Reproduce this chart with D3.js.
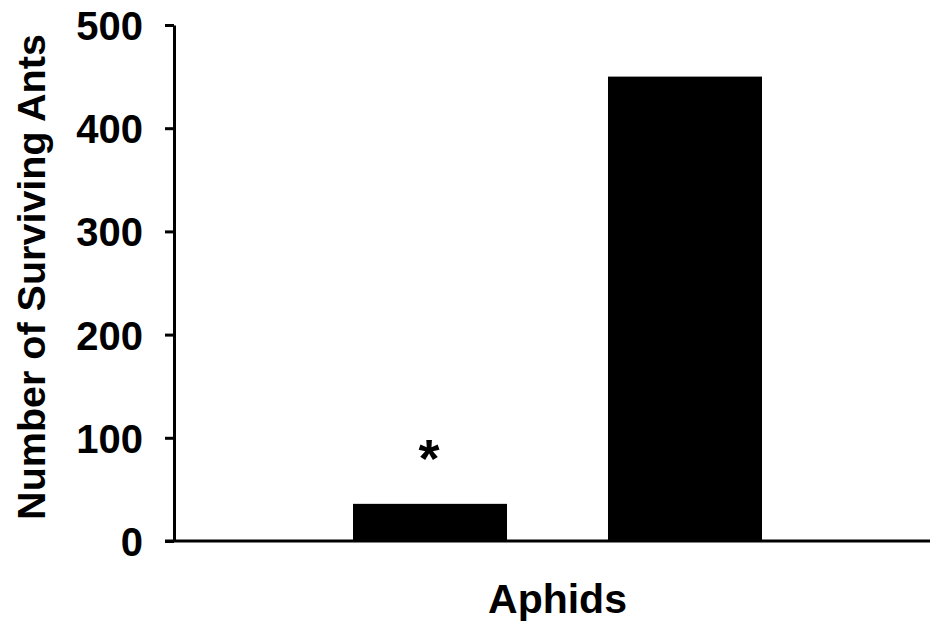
<!DOCTYPE html>
<html>
<head>
<meta charset="utf-8">
<script src="https://cdn.jsdelivr.net/npm/d3@7"></script>
<style>
  body { margin: 0; background: #fff; }
  svg { display: block; }
  text { font-family: "Liberation Sans", Arial, sans-serif; font-weight: bold; fill: #000; }
</style>
</head>
<body>
<div id="chart"></div>
<script>
(function () {

    const categories = ['Aphids']
    const series = ['treatment', 'control']
    const values = [36, 450]
    const marks = ['*', '']
    const yTicks = [0, 100, 200, 300, 400, 500]

    const width = 930
    const height = 626
    const margin = { top: 25, right: -11, bottom: 85, left: 174 }

    const svg = d3.select('#chart')
        .append('svg')
        .attr('width', width)
        .attr('height', height)

    const y = d3.scaleLinear()
        .domain([0, 500])
        .range([height - margin.bottom, margin.top])

    const x0 = d3.scaleBand()
        .domain(categories)
        .range([margin.left, width - margin.right])

    const x1 = d3.scaleBand()
        .domain(series)
        .range([0, x0.bandwidth()])
        .paddingInner(0.396)
        .paddingOuter(0.702)

    const barData = series.map((s, i) => ({ s: s, v: values[i], m: marks[i] }))

    // bars
    svg.append('g')
        .selectAll('rect')
        .data(barData)
        .join('rect')
        .attr('x', d => x0('Aphids') + x1(d.s))
        .attr('y', d => y(d.v))
        .attr('width', x1.bandwidth())
        .attr('height', d => y(0) - y(d.v))
        .attr('fill', '#000')

    // significance mark
    svg.append('g')
        .selectAll('text')
        .data(barData)
        .join('text')
        .attr('x', d => x0('Aphids') + x1(d.s) + x1.bandwidth() / 2 - 1)
        .attr('y', d => y(d.v) - 27)
        .attr('text-anchor', 'middle')
        .style('font-size', '54px')
        .text(d => d.m)

    // y axis
    const yAxis = svg.append('g')
        .attr('transform', `translate(${margin.left},0)`)
        .call(d3.axisLeft(y).tickValues(yTicks).tickSize(9).tickPadding(22).tickSizeOuter(0))
    yAxis.select('.domain').attr('stroke', '#000').attr('stroke-width', 3)
    yAxis.selectAll('.tick line').attr('stroke', '#000').attr('stroke-width', 3)
    yAxis.selectAll('.tick text')
        .style('font-size', '40px')
        .style('font-family', '"Liberation Sans", Arial, sans-serif')
        .style('font-weight', 'bold')
        .attr('dy', '0.36em')

    // x axis line
    svg.append('line')
        .attr('x1', margin.left - 9)
        .attr('x2', width)
        .attr('y1', y(0))
        .attr('y2', y(0))
        .attr('stroke', '#000')
        .attr('stroke-width', 3)

    // x label
    svg.append('text')
        .attr('x', x0('Aphids') + x0.bandwidth() / 2)
        .attr('y', 613)
        .attr('text-anchor', 'middle')
        .style('font-size', '41px')
        .text('Aphids')

    // y title
    svg.append('text')
        .attr('transform', `translate(45,${(y(0) + y(500)) / 2 - 6}) rotate(-90)`)
        .attr('text-anchor', 'middle')
        .style('font-size', '39.5px')
        .text('Number of Surviving Ants')

})();
</script>
</body>
</html>
